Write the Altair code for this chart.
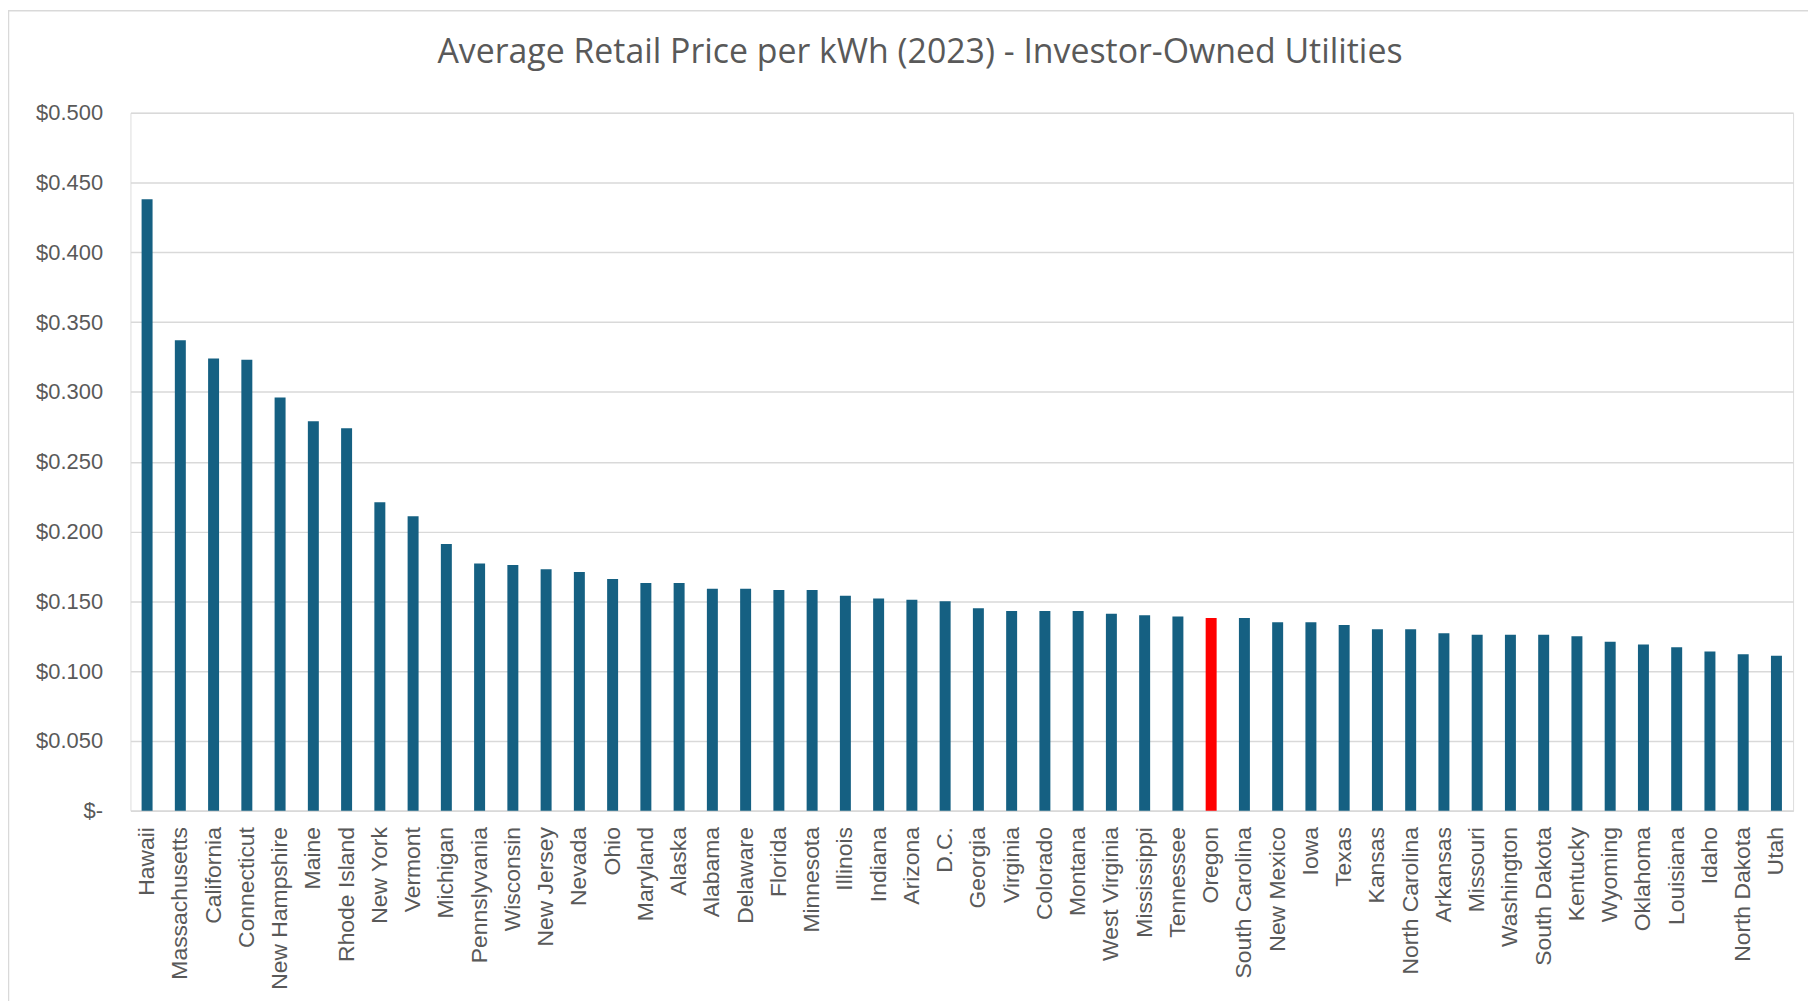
import altair as alt
import pandas as pd

states = ["Hawaii", "Massachusetts", "California", "Connecticut", "New Hampshire", "Maine",
          "Rhode Island", "New York", "Vermont", "Michigan", "Pennslyvania", "Wisconsin",
          "New Jersey", "Nevada", "Ohio", "Maryland", "Alaska", "Alabama", "Delaware",
          "Florida", "Minnesota", "Illinois", "Indiana", "Arizona", "D.C.", "Georgia",
          "Virginia", "Colorado", "Montana", "West Virginia", "Mississippi", "Tennessee",
          "Oregon", "South Carolina", "New Mexico", "Iowa", "Texas", "Kansas",
          "North Carolina", "Arkansas", "Missouri", "Washington", "South Dakota",
          "Kentucky", "Wyoming", "Oklahoma", "Louisiana", "Idaho", "North Dakota", "Utah"]
prices = [0.438, 0.337, 0.324, 0.323, 0.296, 0.279,
          0.274, 0.221, 0.211, 0.191, 0.177, 0.176,
          0.173, 0.171, 0.166, 0.163, 0.163, 0.159, 0.159,
          0.158, 0.158, 0.154, 0.152, 0.151, 0.150, 0.145,
          0.143, 0.143, 0.143, 0.141, 0.140, 0.139,
          0.138, 0.138, 0.135, 0.135, 0.133, 0.130,
          0.130, 0.127, 0.126, 0.126, 0.126,
          0.125, 0.121, 0.119, 0.117, 0.114, 0.112, 0.111]
highlight = "Oregon"
y_ticks = [0, 0.05, 0.1, 0.15, 0.2, 0.25, 0.3, 0.35, 0.4, 0.45, 0.5]

df = pd.DataFrame({"state": states, "price": prices})

GRID = "#D9D9D9"
TEXT = "#595959"
W, H = 1670, 701

bars = alt.Chart(df).mark_bar().encode(
    x=alt.X("state:N", sort=states,
            scale=alt.Scale(paddingInner=0.67, paddingOuter=0.335),
            axis=alt.Axis(title=None, labelAngle=-90, labelFontSize=23,
                          labelFont="Liberation Sans", labelColor=TEXT,
                          labelPadding=16, ticks=False, domainColor=GRID,
                          domainWidth=1.5, labelOverlap=False)),
    y=alt.Y("price:Q", scale=alt.Scale(domain=[0, 0.5], nice=False),
            axis=alt.Axis(title=None, values=y_ticks, grid=True, gridColor=GRID,
                          gridWidth=1.5, domain=False, ticks=False,
                          labelFontSize=22, labelFont="Liberation Sans",
                          labelColor=TEXT, labelPadding=28,
                          labelExpr="datum.value == 0 ? '$-\u00a0\u00a0' : '$' + format(datum.value, '.3f')")),
    color=alt.condition(alt.datum.state == highlight, alt.value("#FF0000"), alt.value("#156082")),
)

frame = alt.Chart(pd.DataFrame({"k": [0]})).mark_rect(
    fill=None, stroke=GRID, strokeWidth=1.5, clip=False
).encode(x=alt.value(-122.5), x2=alt.value(W + 40), y=alt.value(-102.5), y2=alt.value(H + 250))

chart = alt.layer(frame, bars).properties(
    width=W, height=H,
    title=alt.Title("Average Retail Price per kWh (2023) - Investor-Owned Utilities",
                    fontSize=34, font="Open Sans", fontWeight="normal", color=TEXT,
                    anchor="middle", dx=-42, offset=-60),
    autosize=alt.AutoSizeParams(type="none"),
    padding={"left": 123, "top": 103, "right": 15, "bottom": 189},
).configure_view(stroke=None).configure(background="white")

chart.save("out.html", embed_options={"renderer": "svg", "actions": False})
